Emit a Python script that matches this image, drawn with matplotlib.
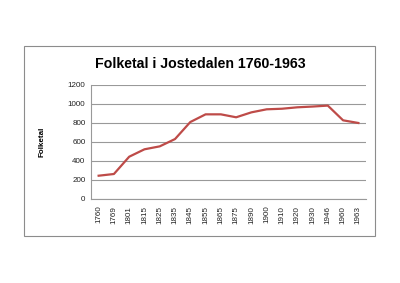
import matplotlib
matplotlib.use("Agg")
import matplotlib.pyplot as plt
from matplotlib.patches import Rectangle

years = ["1760", "1769", "1801", "1815", "1825", "1835", "1845", "1855", "1865",
         "1875", "1890", "1900", "1910", "1920", "1930", "1946", "1960", "1963"]
population = [242, 260, 442, 520, 551, 628, 807, 888, 888,
              857, 909, 941, 947, 962, 970, 980, 825, 797]
yticks = [0, 200, 400, 600, 800, 1000, 1200]

plt.rcParams['font.family'] = ['Liberation Sans', 'DejaVu Sans']

fig = plt.figure(figsize=(4.0, 2.83), dpi=100)
fig.patch.set_facecolor('white')

# outer border of chart area
fig.patches.append(Rectangle((24/400, 1-236/283), 351/400, 190/283,
                             transform=fig.transFigure, fill=False,
                             edgecolor='#8c8c8c', linewidth=0.8))

ax = fig.add_axes([91/400, 1-198.7/283, 275/400, 114/283])
x = list(range(len(years)))
ax.plot(x, population, color='#BE4B48', linewidth=1.6, solid_joinstyle='round')
ax.set_xlim(-0.5, len(years)-0.5)
ax.set_ylim(0, 1200)
ax.set_yticks(yticks)
ax.set_yticklabels([str(v) for v in yticks], fontsize=5.8)
ax.set_xticks(x)
ax.set_xticklabels(years, rotation=90, fontsize=5.8)
ax.tick_params(axis='both', length=0, pad=4, colors='#222222')
ax.tick_params(axis='x', pad=5)
ax.grid(axis='y', color='#999999', linewidth=0.8)
ax.set_axisbelow(True)
for s in ['top', 'right']:
    ax.spines[s].set_visible(False)
for s in ['left', 'bottom']:
    ax.spines[s].set_color('#999999')
    ax.spines[s].set_linewidth(0.8)

fig.text(200/400, 1-64/283, "Folketal i Jostedalen 1760-1963", ha='center', va='center',
         fontsize=10.2, fontweight='bold')
fig.text(42/400, 1-142/283, "Folketal", rotation=90, ha='center', va='center',
         fontsize=5.8, fontweight='bold')

fig.savefig("out.png", dpi=100)
